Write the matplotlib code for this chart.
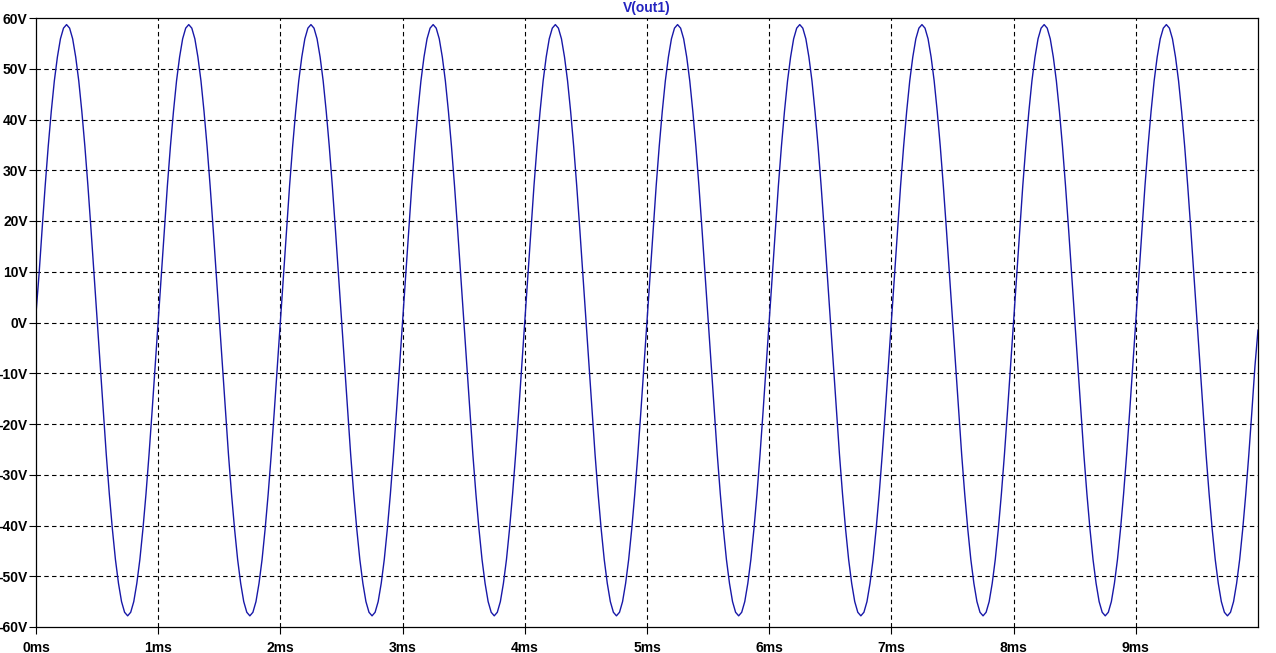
import matplotlib
matplotlib.use("Agg")
import matplotlib.pyplot as plt

time_ms = [round(i * 0.025, 3) for i in range(401)]
v_out1 = [
    1.8, 9.5, 18.4, 26.9, 34.7, 41.6, 47.6, 52.3, 55.9, 58.0, 58.7, 58.0, 55.9, 52.3, 47.6, 41.6, 34.7, 26.9, 18.4, 9.5,
    0.45, -8.6, -17.5, -26.0, -33.8, -40.7, -46.7, -51.4, -55.0, -57.1, -57.8, -57.1, -55.0, -51.4, -46.7, -40.7, -33.8, -26.0, -17.5, -8.6,
    0.45, 9.5, 18.4, 26.9, 34.7, 41.6, 47.6, 52.3, 55.9, 58.0, 58.7, 58.0, 55.9, 52.3, 47.6, 41.6, 34.7, 26.9, 18.4, 9.5,
    0.45, -8.6, -17.5, -26.0, -33.8, -40.7, -46.7, -51.4, -55.0, -57.1, -57.8, -57.1, -55.0, -51.4, -46.7, -40.7, -33.8, -26.0, -17.5, -8.6,
    0.45, 9.5, 18.4, 26.9, 34.7, 41.6, 47.6, 52.3, 55.9, 58.0, 58.7, 58.0, 55.9, 52.3, 47.6, 41.6, 34.7, 26.9, 18.4, 9.5,
    0.45, -8.6, -17.5, -26.0, -33.8, -40.7, -46.7, -51.4, -55.0, -57.1, -57.8, -57.1, -55.0, -51.4, -46.7, -40.7, -33.8, -26.0, -17.5, -8.6,
    0.45, 9.5, 18.4, 26.9, 34.7, 41.6, 47.6, 52.3, 55.9, 58.0, 58.7, 58.0, 55.9, 52.3, 47.6, 41.6, 34.7, 26.9, 18.4, 9.5,
    0.45, -8.6, -17.5, -26.0, -33.8, -40.7, -46.7, -51.4, -55.0, -57.1, -57.8, -57.1, -55.0, -51.4, -46.7, -40.7, -33.8, -26.0, -17.5, -8.6,
    0.45, 9.5, 18.4, 26.9, 34.7, 41.6, 47.6, 52.3, 55.9, 58.0, 58.7, 58.0, 55.9, 52.3, 47.6, 41.6, 34.7, 26.9, 18.4, 9.5,
    0.45, -8.6, -17.5, -26.0, -33.8, -40.7, -46.7, -51.4, -55.0, -57.1, -57.8, -57.1, -55.0, -51.4, -46.7, -40.7, -33.8, -26.0, -17.5, -8.6,
    0.45, 9.5, 18.4, 26.9, 34.7, 41.6, 47.6, 52.3, 55.9, 58.0, 58.7, 58.0, 55.9, 52.3, 47.6, 41.6, 34.7, 26.9, 18.4, 9.5,
    0.45, -8.6, -17.5, -26.0, -33.8, -40.7, -46.7, -51.4, -55.0, -57.1, -57.8, -57.1, -55.0, -51.4, -46.7, -40.7, -33.8, -26.0, -17.5, -8.6,
    0.45, 9.5, 18.4, 26.9, 34.7, 41.6, 47.6, 52.3, 55.9, 58.0, 58.7, 58.0, 55.9, 52.3, 47.6, 41.6, 34.7, 26.9, 18.4, 9.5,
    0.45, -8.6, -17.5, -26.0, -33.8, -40.7, -46.7, -51.4, -55.0, -57.1, -57.8, -57.1, -55.0, -51.4, -46.7, -40.7, -33.8, -26.0, -17.5, -8.6,
    0.45, 9.5, 18.4, 26.9, 34.7, 41.6, 47.6, 52.3, 55.9, 58.0, 58.7, 58.0, 55.9, 52.3, 47.6, 41.6, 34.7, 26.9, 18.4, 9.5,
    0.45, -8.6, -17.5, -26.0, -33.8, -40.7, -46.7, -51.4, -55.0, -57.1, -57.8, -57.1, -55.0, -51.4, -46.7, -40.7, -33.8, -26.0, -17.5, -8.6,
    0.45, 9.5, 18.4, 26.9, 34.7, 41.6, 47.6, 52.3, 55.9, 58.0, 58.7, 58.0, 55.9, 52.3, 47.6, 41.6, 34.7, 26.9, 18.4, 9.5,
    0.45, -8.6, -17.5, -26.0, -33.8, -40.7, -46.7, -51.4, -55.0, -57.1, -57.8, -57.1, -55.0, -51.4, -46.7, -40.7, -33.8, -26.0, -17.5, -8.6,
    0.45, 9.5, 18.4, 26.9, 34.7, 41.6, 47.6, 52.3, 55.9, 58.0, 58.7, 58.0, 55.9, 52.3, 47.6, 41.6, 34.7, 26.9, 18.4, 9.5,
    0.45, -8.6, -17.5, -26.0, -33.8, -40.7, -46.7, -51.4, -55.0, -57.1, -57.8, -57.1, -55.0, -51.4, -46.7, -40.7, -33.8, -26.0, -17.5, -8.6,
    -1.5,
]

x_ticks = [0, 1, 2, 3, 4, 5, 6, 7, 8, 9]
x_labels = ["0ms", "1ms", "2ms", "3ms", "4ms", "5ms", "6ms", "7ms", "8ms", "9ms"]
y_ticks = [-60, -50, -40, -30, -20, -10, 0, 10, 20, 30, 40, 50, 60]
y_labels = ["-60V", "-50V", "-40V", "-30V", "-20V", "-10V", "0V",
            "10V", "20V", "30V", "40V", "50V", "60V"]
title = "V(out1)"

W, H = 1276, 653
fig = plt.figure(figsize=(W / 100, H / 100), dpi=100)
fig.patch.set_facecolor("white")
L, R, T, B = 36, 1258, 18, 627
ax = fig.add_axes([L / W, (H - B) / H, (R - L) / W, (B - T) / H])

ax.plot(time_ms, v_out1, color="#1818a8", lw=1.0)
ax.set_xlim(0, 10)
ax.set_ylim(-60, 60)

ax.set_xticks(x_ticks)
ax.set_xticklabels(x_labels)
ax.set_yticks(y_ticks)
ax.set_yticklabels(y_labels)

fam = ["Liberation Sans", "DejaVu Sans"]
for lab in ax.get_xticklabels() + ax.get_yticklabels():
    lab.set_fontfamily(fam)
    lab.set_fontweight("bold")
    lab.set_fontsize(10)
    lab.set_color("black")

ax.tick_params(axis="both", direction="out", length=5, width=0.8, color="black")
ax.tick_params(axis="x", pad=5)
ax.tick_params(axis="y", pad=1)

for s in ax.spines.values():
    s.set_color("black")
    s.set_linewidth(0.9)

for xv in x_ticks[1:]:
    ax.axvline(xv, color="black", lw=0.8, ls=(0, (4, 3)), zorder=0)
for yv in y_ticks[1:-1]:
    ax.axhline(yv, color="black", lw=0.8, ls=(0, (4, 3)), zorder=0)

fig.text(0.5 * (L + R) / W, 1 - 8 / H, title, ha="center", va="center",
         color="#2424c0", fontsize=10, fontweight="bold", family=fam)

fig.savefig("out.png", dpi=100, facecolor="white")
